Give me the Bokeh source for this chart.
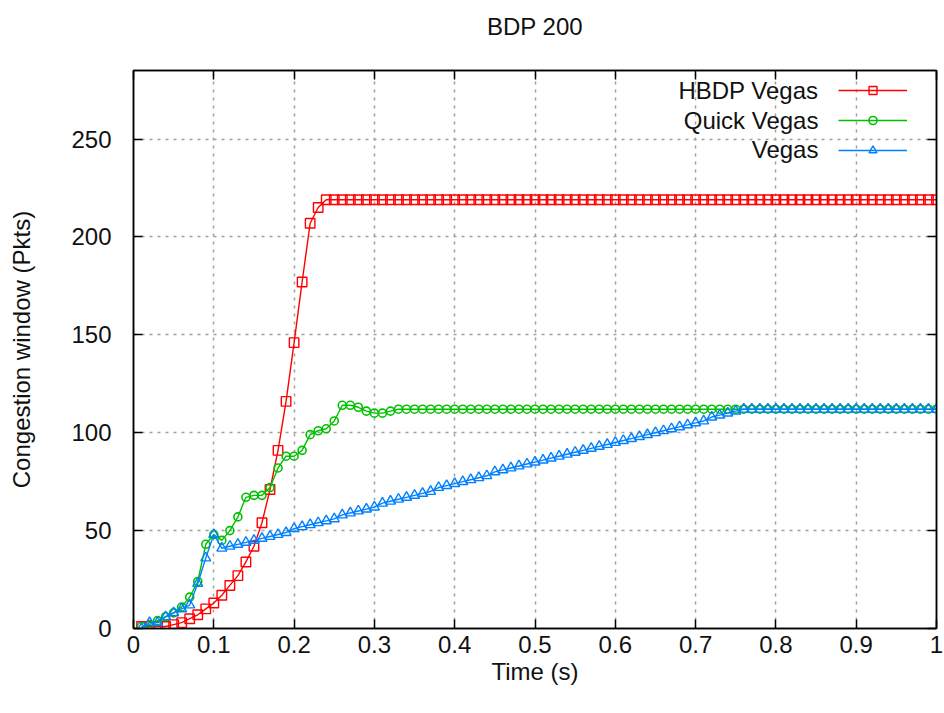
from bokeh.plotting import figure
from bokeh.models import (Range1d, FixedTicker, LinearAxis, Legend, LegendItem,
                          Label, CustomJSTickFormatter)
from bokeh.embed import file_html
from bokeh.resources import INLINE

# ---------------- data ----------------
time_s = [i / 100 for i in range(1, 101)]

hbdp_vegas = [
    1, 1, 1, 1, 2, 3, 5, 7, 10, 13,
    17, 22, 27, 34, 42, 54, 71, 91, 116, 146,
    177, 207, 215, 219, 219, 219, 219, 219, 219, 219,
    219, 219, 219, 219, 219, 219, 219, 219, 219, 219,
    219, 219, 219, 219, 219, 219, 219, 219, 219, 219,
    219, 219, 219, 219, 219, 219, 219, 219, 219, 219,
    219, 219, 219, 219, 219, 219, 219, 219, 219, 219,
    219, 219, 219, 219, 219, 219, 219, 219, 219, 219,
    219, 219, 219, 219, 219, 219, 219, 219, 219, 219,
    219, 219, 219, 219, 219, 219, 219, 219, 219, 219,
]

quick_vegas = [
    1, 2, 4, 6, 8, 11, 16, 24, 43, 48,
    45, 50, 57, 67, 68, 68, 72, 82, 88, 88,
    91, 99, 101, 102, 106, 114, 114, 113, 111, 110,
    110, 111, 112, 112, 112, 112, 112, 112, 112, 112,
    112, 112, 112, 112, 112, 112, 112, 112, 112, 112,
    112, 112, 112, 112, 112, 112, 112, 112, 112, 112,
    112, 112, 112, 112, 112, 112, 112, 112, 112, 112,
    112, 112, 112, 112, 112, 112, 112, 112, 112, 112,
    112, 112, 112, 112, 112, 112, 112, 112, 112, 112,
    112, 112, 112, 112, 112, 112, 112, 112, 112, 112,
]

vegas = [
    0, 3, 3, 6, 8, 10, 12, 23, 36, 48,
    41, 42, 43, 44, 45, 46, 47, 48, 49, 51,
    52, 53, 54, 55, 56, 58, 59, 60, 61, 62,
    64, 65, 66, 67, 68, 69, 70, 72, 73, 74,
    75, 76, 77, 78, 80, 81, 82, 83, 84, 85,
    86, 87, 88, 89, 90, 91, 92, 93, 94, 95,
    96, 97, 98, 99, 100, 101, 102, 103, 104, 105,
    106, 108, 109, 110, 111, 112, 112, 112, 112, 112,
    112, 112, 112, 112, 112, 112, 112, 112, 112, 112,
    112, 112, 112, 112, 112, 112, 112, 112, 112, 112,
]

chart_title = "BDP 200"
series_names = ["HBDP Vegas", "Quick Vegas", "Vegas"]
x_ticks = [0, 0.1, 0.2, 0.3, 0.4, 0.5, 0.6, 0.7, 0.8, 0.9, 1.0]
y_ticks = [0, 50, 100, 150, 200, 250]

# ---------------- styling ----------------
FONT = "Liberation Sans"
FS = "24px"
TXT = "#111111"
RED, GREEN, BLUE = "#ff0000", "#00c000", "#0080ff"

p = figure(width=944, height=713, output_backend="svg", toolbar_location=None,
           x_range=Range1d(0, 1), y_range=Range1d(0, 285),
           min_border_left=133, min_border_right=8,
           min_border_top=70, min_border_bottom=85,
           title=chart_title)
p.background_fill_color = "white"
p.border_fill_color = "white"
p.outline_line_color = "black"
p.outline_line_width = 1.5

p.title.text_font = FONT
p.title.text_font_size = FS
p.title.text_font_style = "normal"
p.title.text_color = TXT
p.title.align = "center"
p.title.vertical_align = "top"
p.title.standoff = 20

fmt = CustomJSTickFormatter(code="return String(Math.round(tick*10)/10)")
blank = CustomJSTickFormatter(code="return ''")

for ax in p.xaxis:
    ax.ticker = FixedTicker(ticks=x_ticks)
    ax.formatter = fmt
    ax.axis_label = "Time (s)"
    ax.major_label_standoff = 7
    ax.axis_label_standoff = 2
for ax in p.yaxis:
    ax.ticker = FixedTicker(ticks=y_ticks)
    ax.axis_label = "Congestion window (Pkts)"
    ax.major_label_standoff = 22
    ax.axis_label_standoff = 33

for ax in list(p.xaxis) + list(p.yaxis):
    ax.major_label_text_font = FONT
    ax.major_label_text_font_size = FS
    ax.major_label_text_color = TXT
    ax.axis_label_text_font = FONT
    ax.axis_label_text_font_size = FS
    ax.axis_label_text_font_style = "normal"
    ax.axis_label_text_color = TXT
    ax.major_tick_in = 9
    ax.major_tick_out = 0
    ax.major_tick_line_width = 1.5
    ax.minor_tick_line_color = None
    ax.axis_line_color = "black"
    ax.axis_line_width = 1.5

mirror_kw = dict(formatter=blank, major_label_text_font_size="1px",
                 major_label_standoff=0, major_tick_in=9, major_tick_out=0,
                 major_tick_line_width=1.5, minor_tick_line_color=None,
                 axis_line_color="black", axis_line_width=1.5)
top_ax = LinearAxis(ticker=FixedTicker(ticks=x_ticks), **mirror_kw)
right_ax = LinearAxis(ticker=FixedTicker(ticks=y_ticks), **mirror_kw)
p.add_layout(top_ax, "above")
p.add_layout(right_ax, "right")
# invisible spacer axis: lifts the title away from the frame like gnuplot's layout
spacer_ax = LinearAxis(ticker=FixedTicker(ticks=x_ticks), formatter=blank,
                       major_label_text_font_size="1px", major_label_standoff=0,
                       major_tick_in=0, major_tick_out=19, major_tick_line_color=None,
                       minor_tick_line_color=None, axis_line_color=None)
p.add_layout(spacer_ax, "above")

p.xgrid.ticker = FixedTicker(ticks=x_ticks)
p.ygrid.ticker = FixedTicker(ticks=y_ticks)
for g in (p.xgrid, p.ygrid):
    g.grid_line_color = "#a0a0a0"
    g.grid_line_dash = "3 5"
    g.grid_line_width = 1.5

# ---------------- series ----------------
l1 = p.line(time_s, hbdp_vegas, line_color=RED, line_width=1.4)
s1 = p.scatter(time_s, hbdp_vegas, marker="square", size=9.5, line_color=RED,
               fill_color=None, line_width=1.4)
l2 = p.line(time_s, quick_vegas, line_color=GREEN, line_width=1.4)
s2 = p.scatter(time_s, quick_vegas, marker="circle", size=8, line_color=GREEN,
               fill_color=None, line_width=1.6)
l3 = p.line(time_s, vegas, line_color=BLUE, line_width=1.4)
s3 = p.scatter(time_s, vegas, marker="triangle", size=10, line_color=BLUE,
               fill_color=None, line_width=1.4)

# gnuplot-style key: sample glyphs on the right (legend), right-aligned names on the left
legend = Legend(items=[LegendItem(label="", renderers=[l1, s1]),
                       LegendItem(label="", renderers=[l2, s2]),
                       LegendItem(label="", renderers=[l3, s3])],
                location="top_right", glyph_width=69, glyph_height=20, spacing=10,
                padding=0, margin=10, label_standoff=19, label_width=0, label_height=0,
                label_text_font_size="1px",
                border_line_color=None, background_fill_alpha=0)
p.add_layout(legend)

for name, yv in zip(series_names, [274.8, 259.7, 244.6]):
    p.add_layout(Label(x=0.853, y=yv, text=name, text_align="right",
                       text_baseline="middle", text_font=FONT, text_font_size=FS,
                       text_color=TXT))

open("out.html", "w").write(file_html(p, INLINE))
